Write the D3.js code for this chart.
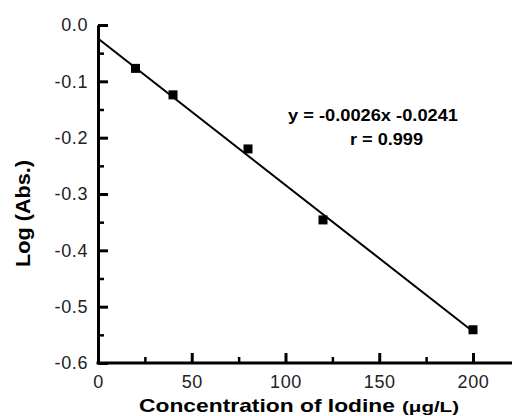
<!DOCTYPE html>
<meta charset="utf-8">
<style>
  body { margin: 0; background: #fff; }
  svg { display: block; font-family: "Liberation Sans", Arial, sans-serif; }
</style>
<body>
<svg width="512" height="416"></svg>
<script src="https://d3js.org/d3.v7.min.js"></script>
<script>

// calibration data
var concentration = [20, 40, 80, 120, 200];
var logAbs = [-0.077, -0.124, -0.220, -0.346, -0.541];

// fitted line from the printed equation
var slope = -0.0026,
    intercept = -0.0241,
    fitRange = [0, 200];

var xTicks = [0, 50, 100, 150, 200],
    xMinor = [25, 75, 125, 175],
    yTicks = [0, -0.1, -0.2, -0.3, -0.4, -0.5, -0.6],
    yMinor = [-0.05, -0.15, -0.25, -0.35, -0.45, -0.55];

var svg = d3.select("svg"),
    width = +svg.attr("width"),
    height = +svg.attr("height");

var x = d3.scaleLinear().domain([0, 220]).range([98, 510.5]);
var y = d3.scaleLinear().domain([-0.6, 0]).range([363, 25]);

// minor ticks first, major axes on top
svg.append("g")
    .attr("transform", "translate(" + x(0) + ",0)")
    .call(d3.axisLeft(y).tickValues(yMinor).tickSize(-6).tickSizeOuter(0).tickFormat(""))
    .call(function(g) { g.select(".domain").remove(); })
    .selectAll("line").attr("stroke-width", 2.5);

svg.append("g")
    .attr("transform", "translate(0," + y(-0.6) + ")")
    .call(d3.axisBottom(x).tickValues(xMinor).tickSize(-6).tickSizeOuter(0).tickFormat(""))
    .call(function(g) { g.select(".domain").remove(); })
    .selectAll("line").attr("stroke-width", 2.5);

var yAxis = svg.append("g")
    .attr("transform", "translate(" + x(0) + ",0)")
    .call(d3.axisLeft(y)
        .tickValues(yTicks)
        .tickSize(-10)
        .tickSizeOuter(0)
        .tickPadding(10)
        .tickFormat(function(d) { return d.toFixed(1); }));

var xAxis = svg.append("g")
    .attr("transform", "translate(0," + y(-0.6) + ")")
    .call(d3.axisBottom(x)
        .tickValues(xTicks)
        .tickSize(-10)
        .tickSizeOuter(0)
        .tickPadding(12));

xAxis.select(".domain").attr("d", "M" + (x(0) - 1.5) + ",0H" + width);

[yAxis, xAxis].forEach(function(a) {
  a.select(".domain").attr("stroke-width", 3).attr("stroke", "#000");
  a.selectAll(".tick line").attr("stroke-width", 3).attr("stroke", "#000");
  a.selectAll(".tick text")
      .attr("fill", "#222")
      .style("font-size", "18px")
      .style("letter-spacing", "0.6px");
});

// regression line
svg.append("line")
    .attr("x1", x(fitRange[0]))
    .attr("y1", y(slope * fitRange[0] + intercept))
    .attr("x2", x(fitRange[1]))
    .attr("y2", y(slope * fitRange[1] + intercept))
    .attr("stroke", "#000")
    .attr("stroke-width", 2);

// data squares
svg.append("g")
  .selectAll("rect")
  .data(concentration)
  .enter().append("rect")
    .attr("x", function(d) { return x(d) - 4.5; })
    .attr("y", function(d, i) { return y(logAbs[i]) - 4.5; })
    .attr("width", 9)
    .attr("height", 9)
    .attr("fill", "#000");

// equation
svg.append("text")
    .attr("x", 288)
    .attr("y", 121)
    .attr("font-size", 16)
    .attr("font-weight", "bold")
    .attr("textLength", 170)
    .attr("lengthAdjust", "spacingAndGlyphs")
    .text("y = -0.0026x -0.0241");

svg.append("text")
    .attr("x", 350)
    .attr("y", 145)
    .attr("font-size", 16)
    .attr("font-weight", "bold")
    .attr("textLength", 73)
    .attr("lengthAdjust", "spacingAndGlyphs")
    .text("r = 0.999");

// axis titles
svg.append("text")
    .attr("transform", "translate(30,267) rotate(-90)")
    .attr("font-size", 20)
    .attr("font-weight", "bold")
    .attr("textLength", 107)
    .attr("lengthAdjust", "spacingAndGlyphs")
    .text("Log (Abs.)");

svg.append("text")
    .attr("x", 139)
    .attr("y", 412)
    .attr("font-size", 19)
    .attr("font-weight", "bold")
    .attr("textLength", 256)
    .attr("lengthAdjust", "spacingAndGlyphs")
    .text("Concentration of Iodine");

svg.append("text")
    .attr("x", 402)
    .attr("y", 412)
    .attr("font-size", 14)
    .attr("font-weight", "bold")
    .attr("textLength", 57)
    .attr("lengthAdjust", "spacingAndGlyphs")
    .text("(μg/L)");

</script>
</body>
